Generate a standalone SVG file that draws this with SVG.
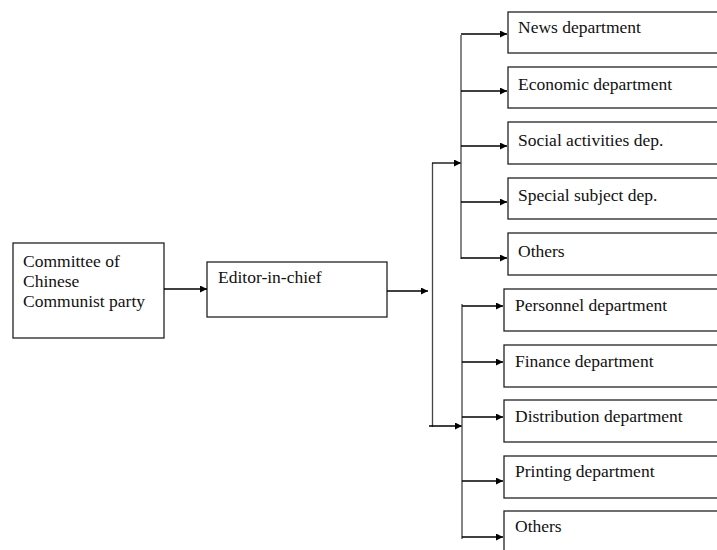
<svg xmlns="http://www.w3.org/2000/svg" width="717" height="550" viewBox="0 0 717 550">
  <style>
    .box { fill: #ffffff; stroke: #222222; stroke-width: 1.3; }
    .label { font-family: "Liberation Serif", "Times New Roman", serif; font-size: 17.5px; fill: #111111; }
    .bus { stroke: #444444; stroke-width: 1.3; fill: none; }
    .arrow { stroke: #000000; stroke-width: 1.3; fill: none; marker-end: url(#head); }
  </style>
  <defs>
    <marker id="head" viewBox="0 0 10 10" refX="10" refY="5" markerUnits="userSpaceOnUse" markerWidth="9" markerHeight="7" orient="auto">
      <path d="M0,0 L10,5 L0,10 z" fill="#000000"/>
    </marker>
  </defs>
  <rect width="717" height="550" fill="#ffffff"/>

  <!-- Left side: party committee and editor-in-chief -->
  <g id="committee">
    <rect class="box" x="13" y="243" width="151" height="95"/>
    <text class="label" x="23" y="267">Committee of</text>
    <text class="label" x="23" y="287">Chinese</text>
    <text class="label" x="23" y="307">Communist party</text>
  </g>
  <g id="editor">
    <rect class="box" x="207" y="262" width="180" height="55"/>
    <text class="label" x="218" y="283">Editor-in-chief</text>
  </g>

  <!-- Upper group of departments -->
  <g id="news">
    <rect class="box" x="508" y="12" width="220" height="41"/>
    <text class="label" x="518" y="33">News department</text>
  </g>
  <g id="economic">
    <rect class="box" x="508" y="67" width="220" height="41"/>
    <text class="label" x="518" y="90">Economic department</text>
  </g>
  <g id="social">
    <rect class="box" x="508" y="122" width="220" height="42"/>
    <text class="label" x="518" y="146">Social activities dep.</text>
  </g>
  <g id="special">
    <rect class="box" x="508" y="178" width="220" height="41"/>
    <text class="label" x="518" y="201">Special subject dep.</text>
  </g>
  <g id="others-upper">
    <rect class="box" x="508" y="233" width="220" height="42"/>
    <text class="label" x="518" y="257">Others</text>
  </g>

  <!-- Lower group of departments -->
  <g id="personnel">
    <rect class="box" x="504" y="289" width="224" height="42"/>
    <text class="label" x="515" y="311">Personnel department</text>
  </g>
  <g id="finance">
    <rect class="box" x="504" y="345" width="224" height="42"/>
    <text class="label" x="515" y="367">Finance department</text>
  </g>
  <g id="distribution">
    <rect class="box" x="504" y="400" width="224" height="42"/>
    <text class="label" x="515" y="422">Distribution department</text>
  </g>
  <g id="printing">
    <rect class="box" x="504" y="456" width="224" height="42"/>
    <text class="label" x="515" y="477">Printing department</text>
  </g>
  <g id="others-lower">
    <rect class="box" x="504" y="511" width="224" height="60"/>
    <text class="label" x="515" y="532">Others</text>
  </g>

  <!-- Connectors -->
  <g id="connectors">
    <line class="arrow" x1="164" y1="289" x2="207" y2="289"/>
    <line class="arrow" x1="387" y1="291" x2="428" y2="291"/>

    <!-- main splitter -->
    <line class="bus" x1="432.5" y1="163" x2="432.5" y2="427"/>
    <line class="arrow" x1="432" y1="163" x2="461" y2="163"/>
    <line class="arrow" x1="429" y1="426" x2="462" y2="426"/>

    <!-- upper bus -->
    <line class="bus" x1="461" y1="35" x2="461" y2="259"/>
    <line class="arrow" x1="461" y1="34" x2="507" y2="34"/>
    <line class="arrow" x1="461" y1="91" x2="507" y2="91"/>
    <line class="arrow" x1="461" y1="146" x2="507" y2="146"/>
    <line class="arrow" x1="461" y1="202" x2="507" y2="202"/>
    <line class="arrow" x1="461" y1="258" x2="507" y2="258"/>

    <!-- lower bus -->
    <line class="bus" x1="462" y1="304" x2="462" y2="539"/>
    <line class="arrow" x1="462" y1="306" x2="503" y2="306"/>
    <line class="arrow" x1="462" y1="362" x2="503" y2="362"/>
    <line class="arrow" x1="462" y1="417" x2="503" y2="417"/>
    <line class="arrow" x1="462" y1="481" x2="503" y2="481"/>
    <line class="arrow" x1="462" y1="537" x2="503" y2="537"/>
  </g>
</svg>
